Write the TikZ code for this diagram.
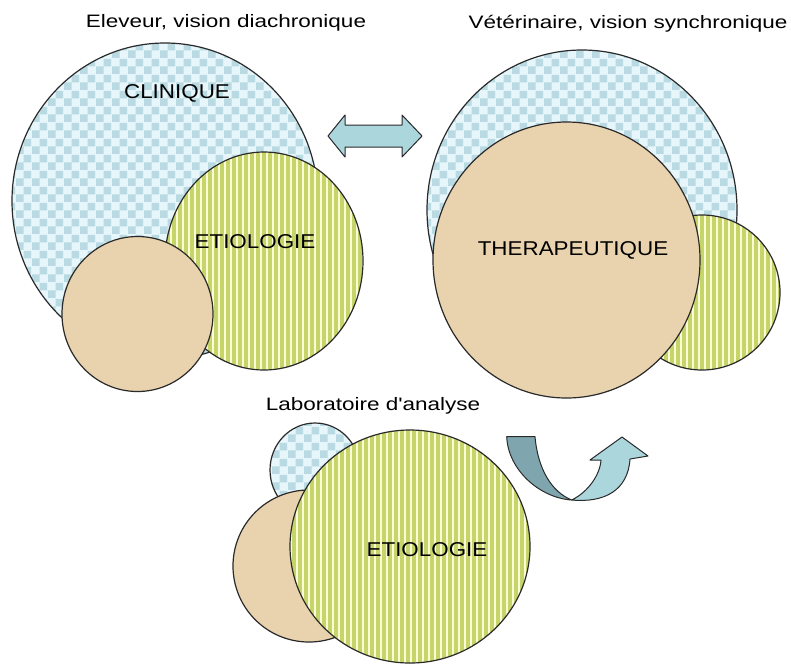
\documentclass[tikz,border=0pt]{standalone}
\usepackage{fontspec}
\setmainfont{Liberation Sans}
\usepackage{graphicx}
\usetikzlibrary{patterns,patterns.meta}

\pgfdeclarepatternformonly{bigchecker}{\pgfpointorigin}{\pgfqpoint{16pt}{16pt}}{\pgfqpoint{16pt}{16pt}}{%
  \pgfpathrectangle{\pgfpointorigin}{\pgfqpoint{8pt}{8pt}}%
  \pgfpathrectangle{\pgfqpoint{8pt}{8pt}}{\pgfqpoint{8pt}{8pt}}%
  \pgfusepath{fill}}

\definecolor{chkA}{HTML}{E6F6FA}
\definecolor{chkB}{HTML}{B9DAE2}
\definecolor{strA}{HTML}{FBFBD6}
\definecolor{strB}{HTML}{C5D56A}
\definecolor{beige}{HTML}{E9D3AE}
\definecolor{edgecol}{HTML}{2A2A2A}
\definecolor{arrL}{HTML}{AAD6DC}
\definecolor{arrD}{HTML}{7FA6AF}

\newcommand{\hstretch}[2]{\scalebox{#1}[1]{#2}}

\tikzset{
  bluezone/.style={draw=edgecol, line width=1.2pt, preaction={fill=chkA}, pattern=bigchecker, pattern color=chkB},
  yellowzone/.style={draw=edgecol, line width=1.2pt, preaction={fill=strA}, pattern={Lines[angle=90,distance=6pt,line width=3.2pt]}, pattern color=strB},
  beigezone/.style={draw=edgecol, line width=1.2pt, fill=beige},
  headtext/.style={font=\fontsize{18}{20}\selectfont, inner sep=0pt, text=black},
  zonetext/.style={font=\fontsize{20}{22}\selectfont, inner sep=0pt, text=black},
  arrowshape/.style={draw=edgecol, line width=1pt, line join=round},
}

\begin{document}
\begin{tikzpicture}[x=1pt,y=-1pt]
  \useasboundingbox (0,0) rectangle (791,665);
  \fill[white] (0,0) rectangle (791,665);

  % top-left group
  \draw[bluezone] (165,201) ellipse [x radius=153, y radius=158];
  \draw[yellowzone] (264,261) ellipse [x radius=99, y radius=109];
  \draw[beigezone] (137.5,314) ellipse [x radius=75.5, y radius=77.5];

  % top-right group
  \draw[bluezone] (582,210) ellipse [x radius=155, y radius=160];
  \draw[yellowzone] (702,292.5) ellipse [x radius=78, y radius=77.5];
  \draw[beigezone] (566.5,260) ellipse [x radius=133.5, y radius=138];

  % bottom group
  \draw[bluezone] (315,470) ellipse [x radius=45, y radius=47];
  \draw[beigezone] (309,566) ellipse [x radius=76, y radius=76];
  \draw[yellowzone] (410,546.5) ellipse [x radius=120, y radius=116.5];

  % double arrow
  \draw[arrowshape, fill=arrL] (328,136) -- (345,115) -- (345,125) -- (402,125) -- (402,115)
    -- (422,136) -- (402,157) -- (402,147) -- (345,147) -- (345,157) -- cycle;

  % curved U-turn arrow
  \draw[arrowshape, fill=arrD] (506.7,436.7) -- (535,436.7)
    .. controls (538,470) and (552,492) .. (571.7,500)
    .. controls (540,498) and (508,470) .. (506.7,436.7) -- cycle;
  \draw[arrowshape, fill=arrL] (571.7,500)
    .. controls (588,492) and (600,475) .. (601,460)
    -- (590,460) -- (622,437) -- (648,456) -- (630,459)
    .. controls (628,490) and (605,503) .. (571.7,500) -- cycle;

  % texts
  \node[headtext] (t1) at (226,23) {\hstretch{1.25}{Eleveur, vision diachronique}};
  \node[headtext] (t2) at (628,24) {\hstretch{1.25}{Vétérinaire, vision synchronique}};
  \node[headtext] (t3) at (373,406) {\hstretch{1.25}{Laboratoire d\textquotesingle analyse}};

  \node[zonetext] (clin) at (177,93) {\hstretch{1.12}{CLINIQUE}};
  \node[zonetext] (etio1) at (255,242) {\hstretch{1.12}{ETIOLOGIE}};
  \node[zonetext] (ther) at (573,250) {\hstretch{1.12}{THERAPEUTIQUE}};
  \node[zonetext] (etio2) at (427,550) {\hstretch{1.12}{ETIOLOGIE}};
\end{tikzpicture}
\end{document}
